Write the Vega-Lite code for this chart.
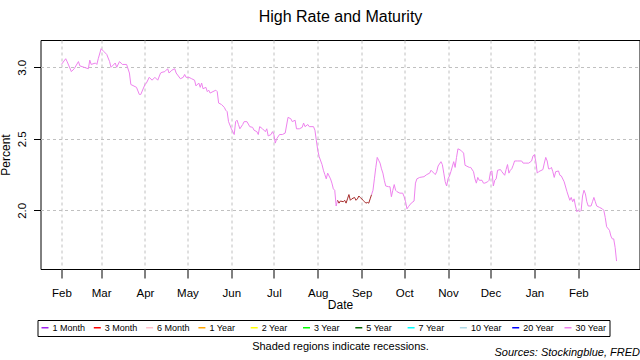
{
"$schema": "https://vega.github.io/schema/vega-lite/v6.json",
"width": 599, "height": 229,
"autosize": "none",
"padding": {"left": 40.5, "top": 40, "right": 0.5, "bottom": 91},
"background": "white",
"config": {
  "view": {"stroke": "black", "strokeWidth": 1},
  "font": "Liberation Sans",
  "axis": {"labelColor": "black", "titleColor": "black", "tickColor": "black", "titleFontWeight": "normal", "labelFont": "Liberation Sans", "titleFont": "Liberation Sans"}
},
"resolve": {"axis": {"x": "independent", "y": "independent"}},
"datasets": {
"a": [
{"date":"2019-02-01","rate":3.02},{"date":"2019-02-04","rate":3.06},{"date":"2019-02-05","rate":3.04},{"date":"2019-02-08","rate":2.97},{"date":"2019-02-10","rate":2.99},{"date":"2019-02-13","rate":3.04},{"date":"2019-02-14","rate":3.01},{"date":"2019-02-17","rate":3.00},{"date":"2019-02-20","rate":2.99},{"date":"2019-02-21","rate":3.05},{"date":"2019-02-22","rate":3.02},{"date":"2019-02-25","rate":3.03},{"date":"2019-02-26","rate":3.02},{"date":"2019-02-27","rate":3.06},
{"date":"2019-03-01","rate":3.13},{"date":"2019-03-03","rate":3.11},{"date":"2019-03-05","rate":3.09},{"date":"2019-03-07","rate":3.04},{"date":"2019-03-08","rate":3.00},{"date":"2019-03-11","rate":3.03},{"date":"2019-03-12","rate":3.00},{"date":"2019-03-14","rate":3.04},{"date":"2019-03-16","rate":3.02},{"date":"2019-03-19","rate":3.02},{"date":"2019-03-21","rate":2.96},{"date":"2019-03-22","rate":2.88},{"date":"2019-03-26","rate":2.86},{"date":"2019-03-28","rate":2.81},{"date":"2019-03-29","rate":2.81},
{"date":"2019-04-01","rate":2.88},{"date":"2019-04-02","rate":2.89},{"date":"2019-04-04","rate":2.93},{"date":"2019-04-06","rate":2.91},{"date":"2019-04-08","rate":2.93},{"date":"2019-04-10","rate":2.91},{"date":"2019-04-12","rate":2.96},{"date":"2019-04-13","rate":2.965},{"date":"2019-04-15","rate":2.97},{"date":"2019-04-17","rate":2.99},{"date":"2019-04-18","rate":2.96},{"date":"2019-04-20","rate":2.98},{"date":"2019-04-22","rate":2.99},{"date":"2019-04-23","rate":2.96},{"date":"2019-04-26","rate":2.92},{"date":"2019-04-28","rate":2.93},{"date":"2019-04-29","rate":2.95},{"date":"2019-04-30","rate":2.93},
{"date":"2019-05-02","rate":2.93},{"date":"2019-05-04","rate":2.92},{"date":"2019-05-06","rate":2.91},{"date":"2019-05-07","rate":2.87},{"date":"2019-05-09","rate":2.89},{"date":"2019-05-10","rate":2.86},{"date":"2019-05-11","rate":2.89},{"date":"2019-05-12","rate":2.85},{"date":"2019-05-14","rate":2.86},{"date":"2019-05-15","rate":2.83},{"date":"2019-05-16","rate":2.84},{"date":"2019-05-17","rate":2.82},{"date":"2019-05-19","rate":2.83},{"date":"2019-05-21","rate":2.84},{"date":"2019-05-22","rate":2.83},{"date":"2019-05-23","rate":2.75},{"date":"2019-05-25","rate":2.74},{"date":"2019-05-27","rate":2.72},{"date":"2019-05-28","rate":2.70},{"date":"2019-05-29","rate":2.69},{"date":"2019-05-30","rate":2.62},
{"date":"2019-06-01","rate":2.57},{"date":"2019-06-03","rate":2.53},{"date":"2019-06-04","rate":2.62},{"date":"2019-06-05","rate":2.63},{"date":"2019-06-06","rate":2.60},{"date":"2019-06-07","rate":2.57},{"date":"2019-06-09","rate":2.60},{"date":"2019-06-10","rate":2.62},{"date":"2019-06-12","rate":2.62},{"date":"2019-06-14","rate":2.585},{"date":"2019-06-16","rate":2.58},{"date":"2019-06-17","rate":2.56},{"date":"2019-06-19","rate":2.55},{"date":"2019-06-20","rate":2.53},{"date":"2019-06-21","rate":2.585},{"date":"2019-06-23","rate":2.57},{"date":"2019-06-25","rate":2.55},{"date":"2019-06-26","rate":2.57},{"date":"2019-06-27","rate":2.52},{"date":"2019-06-29","rate":2.53},{"date":"2019-06-30","rate":2.55},
{"date":"2019-07-01","rate":2.53},{"date":"2019-07-02","rate":2.47},{"date":"2019-07-03","rate":2.50},{"date":"2019-07-05","rate":2.53},{"date":"2019-07-07","rate":2.53},{"date":"2019-07-09","rate":2.54},{"date":"2019-07-11","rate":2.65},{"date":"2019-07-13","rate":2.64},{"date":"2019-07-14","rate":2.62},{"date":"2019-07-16","rate":2.63},{"date":"2019-07-17","rate":2.57},{"date":"2019-07-19","rate":2.57},{"date":"2019-07-21","rate":2.58},{"date":"2019-07-22","rate":2.61},{"date":"2019-07-23","rate":2.585},{"date":"2019-07-25","rate":2.60},{"date":"2019-07-26","rate":2.585},{"date":"2019-07-29","rate":2.585},{"date":"2019-07-30","rate":2.56},{"date":"2019-07-31","rate":2.49},
{"date":"2019-08-01","rate":2.42},{"date":"2019-08-02","rate":2.375},{"date":"2019-08-04","rate":2.32},{"date":"2019-08-05","rate":2.28},{"date":"2019-08-06","rate":2.25},{"date":"2019-08-07","rate":2.22},{"date":"2019-08-08","rate":2.26},{"date":"2019-08-10","rate":2.22},{"date":"2019-08-11","rate":2.19},{"date":"2019-08-12","rate":2.15},{"date":"2019-08-13","rate":2.14},{"date":"2019-08-14","rate":2.03},{"date":"2019-08-15","rate":2.07}
],
"b": [
{"date":"2019-08-15","rate":2.07},{"date":"2019-08-16","rate":2.05},{"date":"2019-08-17","rate":2.065},{"date":"2019-08-19","rate":2.06},{"date":"2019-08-20","rate":2.07},{"date":"2019-08-21","rate":2.05},{"date":"2019-08-22","rate":2.08},{"date":"2019-08-23","rate":2.11},{"date":"2019-08-24","rate":2.07},{"date":"2019-08-25","rate":2.08},{"date":"2019-08-27","rate":2.09},{"date":"2019-08-28","rate":2.07},{"date":"2019-08-29","rate":2.08},{"date":"2019-08-30","rate":2.10},{"date":"2019-08-31","rate":2.09},{"date":"2019-09-02","rate":2.07},{"date":"2019-09-03","rate":2.06},{"date":"2019-09-04","rate":2.05},{"date":"2019-09-05","rate":2.055},{"date":"2019-09-06","rate":2.05},{"date":"2019-09-07","rate":2.08},{"date":"2019-09-08","rate":2.11}
],
"c1": [
{"date":"2019-09-08","rate":2.11},{"date":"2019-09-09","rate":2.14},{"date":"2019-09-10","rate":2.22},{"date":"2019-09-11","rate":2.30},{"date":"2019-09-12","rate":2.37},{"date":"2019-09-13","rate":2.35},{"date":"2019-09-14","rate":2.33},{"date":"2019-09-15","rate":2.29},{"date":"2019-09-16","rate":2.26},{"date":"2019-09-17","rate":2.21},{"date":"2019-09-18","rate":2.17},{"date":"2019-09-20","rate":2.165},{"date":"2019-09-21","rate":2.165},{"date":"2019-09-22","rate":2.095},{"date":"2019-09-23","rate":2.14},{"date":"2019-09-24","rate":2.18},{"date":"2019-09-25","rate":2.14},{"date":"2019-09-26","rate":2.13},{"date":"2019-09-28","rate":2.12},{"date":"2019-09-30","rate":2.12},
{"date":"2019-10-01","rate":2.095},{"date":"2019-10-02","rate":2.06},{"date":"2019-10-03","rate":2.01},{"date":"2019-10-04","rate":2.025},{"date":"2019-10-06","rate":2.05},{"date":"2019-10-08","rate":2.065},{"date":"2019-10-09","rate":2.19},{"date":"2019-10-10","rate":2.22},{"date":"2019-10-12","rate":2.23},{"date":"2019-10-15","rate":2.235},{"date":"2019-10-17","rate":2.25},{"date":"2019-10-19","rate":2.26},{"date":"2019-10-20","rate":2.28},{"date":"2019-10-22","rate":2.26},{"date":"2019-10-23","rate":2.25},{"date":"2019-10-24","rate":2.27},{"date":"2019-10-25","rate":2.31},{"date":"2019-10-27","rate":2.34},{"date":"2019-10-28","rate":2.32},{"date":"2019-10-29","rate":2.26},{"date":"2019-10-30","rate":2.20},{"date":"2019-10-31","rate":2.17},
{"date":"2019-11-01","rate":2.22},{"date":"2019-11-02","rate":2.24},{"date":"2019-11-03","rate":2.27},{"date":"2019-11-05","rate":2.34},{"date":"2019-11-06","rate":2.30},{"date":"2019-11-07","rate":2.37},{"date":"2019-11-08","rate":2.43},{"date":"2019-11-10","rate":2.42},{"date":"2019-11-12","rate":2.40},{"date":"2019-11-13","rate":2.315},{"date":"2019-11-16","rate":2.30},{"date":"2019-11-17","rate":2.30},{"date":"2019-11-19","rate":2.27},{"date":"2019-11-20","rate":2.22},{"date":"2019-11-21","rate":2.19},{"date":"2019-11-22","rate":2.23},{"date":"2019-11-23","rate":2.21},{"date":"2019-11-25","rate":2.21},{"date":"2019-11-26","rate":2.19},{"date":"2019-11-27","rate":2.19},{"date":"2019-11-29","rate":2.20},{"date":"2019-11-30","rate":2.21},
{"date":"2019-12-01","rate":2.27},{"date":"2019-12-02","rate":2.275},{"date":"2019-12-03","rate":2.17},{"date":"2019-12-04","rate":2.21},{"date":"2019-12-05","rate":2.22},{"date":"2019-12-06","rate":2.28},{"date":"2019-12-08","rate":2.285},{"date":"2019-12-09","rate":2.27},{"date":"2019-12-11","rate":2.245},{"date":"2019-12-12","rate":2.285},{"date":"2019-12-13","rate":2.32},{"date":"2019-12-14","rate":2.26},{"date":"2019-12-15","rate":2.28},{"date":"2019-12-16","rate":2.29},{"date":"2019-12-17","rate":2.315},{"date":"2019-12-18","rate":2.345},{"date":"2019-12-20","rate":2.345},{"date":"2019-12-23","rate":2.345},{"date":"2019-12-24","rate":2.33},{"date":"2019-12-26","rate":2.33},{"date":"2019-12-28","rate":2.33},{"date":"2019-12-30","rate":2.345},{"date":"2019-12-31","rate":2.38}
],
"c2": [
{"date":"2019-12-31","rate":2.38},
{"date":"2020-01-01","rate":2.39},{"date":"2020-01-02","rate":2.34},{"date":"2020-01-03","rate":2.26},{"date":"2020-01-04","rate":2.27},{"date":"2020-01-05","rate":2.275},{"date":"2020-01-07","rate":2.285},{"date":"2020-01-08","rate":2.33},{"date":"2020-01-09","rate":2.37},{"date":"2020-01-10","rate":2.345},{"date":"2020-01-11","rate":2.29},{"date":"2020-01-12","rate":2.29},{"date":"2020-01-13","rate":2.30},{"date":"2020-01-14","rate":2.27},{"date":"2020-01-15","rate":2.23},{"date":"2020-01-16","rate":2.27},{"date":"2020-01-18","rate":2.275},{"date":"2020-01-19","rate":2.245},{"date":"2020-01-20","rate":2.24},{"date":"2020-01-22","rate":2.20},{"date":"2020-01-24","rate":2.13},{"date":"2020-01-25","rate":2.10},{"date":"2020-01-26","rate":2.07},{"date":"2020-01-27","rate":2.09},{"date":"2020-01-28","rate":2.06},{"date":"2020-01-29","rate":2.08},{"date":"2020-01-30","rate":2.03},{"date":"2020-01-31","rate":1.99},
{"date":"2020-02-01","rate":2.00},{"date":"2020-02-02","rate":1.99},{"date":"2020-02-03","rate":2.00},{"date":"2020-02-04","rate":2.10},{"date":"2020-02-05","rate":2.14},{"date":"2020-02-06","rate":2.115},{"date":"2020-02-07","rate":2.06},{"date":"2020-02-08","rate":2.03},{"date":"2020-02-10","rate":2.03},{"date":"2020-02-11","rate":2.06},{"date":"2020-02-12","rate":2.09},{"date":"2020-02-13","rate":2.06},{"date":"2020-02-14","rate":2.03},{"date":"2020-02-16","rate":2.02},{"date":"2020-02-18","rate":2.01},{"date":"2020-02-19","rate":2.00},{"date":"2020-02-20","rate":1.95},{"date":"2020-02-21","rate":1.885},{"date":"2020-02-23","rate":1.86},{"date":"2020-02-24","rate":1.82},{"date":"2020-02-25","rate":1.80},{"date":"2020-02-26","rate":1.80},{"date":"2020-02-27","rate":1.74},{"date":"2020-02-28","rate":1.645}
]
},
"layer": [
{
  "data": {"name": "a"},
  "transform": [{"calculate": "'30 Year'", "as": "maturity"}],
  "mark": {"type": "line", "strokeWidth": 1},
  "encoding": {
    "x": {"field": "date", "type": "temporal",
      "scale": {"type": "utc", "domain": [{"year":2019,"month":1,"date":17,"hours":5,"utc":true},{"year":2020,"month":3,"date":15,"hours":5,"utc":true}]},
      "axis": {"orient": "bottom", "values": [
        {"year":2019,"month":2,"date":1,"utc":true},{"year":2019,"month":3,"date":1,"utc":true},{"year":2019,"month":4,"date":1,"utc":true},{"year":2019,"month":5,"date":1,"utc":true},{"year":2019,"month":6,"date":1,"utc":true},{"year":2019,"month":7,"date":1,"utc":true},{"year":2019,"month":8,"date":1,"utc":true},{"year":2019,"month":9,"date":1,"utc":true},{"year":2019,"month":10,"date":1,"utc":true},{"year":2019,"month":11,"date":1,"utc":true},{"year":2019,"month":12,"date":1,"utc":true},{"year":2020,"month":1,"date":1,"utc":true},{"year":2020,"month":2,"date":1,"utc":true}],
        "format": "%b", "labelFontSize": 11.5, "tickSize": 9, "labelPadding": 9, "labelAngle": 0, "labelFlush": false, "labelOverlap": false,
        "domain": false, "grid": true, "gridDash": [3,3], "gridColor": "#c0c0c0", "gridWidth": 1,
        "title": "Date", "titleFontSize": 12, "titlePadding": 1}},
    "y": {"field": "rate", "type": "quantitative",
      "scale": {"domain": [1.5895, 3.191], "nice": false, "zero": false},
      "axis": {"orient": "left", "values": [2.0, 2.5, 3.0], "format": ".1f", "labelAngle": -90, "labelAlign": "center", "labelBaseline": "bottom", "labelFontSize": 11.5, "tickSize": 7, "labelPadding": 6, "domain": false, "grid": true, "gridDash": [3,3], "gridColor": "#c0c0c0", "title": "Percent", "titleFontSize": 12, "titlePadding": 4}},
    "color": {"field": "maturity", "type": "nominal",
      "scale": {"domain": ["1 Month","3 Month","6 Month","1 Year","2 Year","3 Year","5 Year","7 Year","10 Year","20 Year","30 Year"],
                "range": ["#A020F0","#FF0000","#FFC0CB","#FFA500","#FFFF00","#00FF00","#006400","#00FFFF","#ADD8E6","#0000FF","#EE82EE"]},
      "legend": {"orient": "none", "legendX": -3, "legendY": 280, "direction": "horizontal", "columns": 11, "gridAlign": "all", "title": null,
        "symbolType": "stroke", "symbolSize": 49, "symbolStrokeWidth": 1.5, "labelFontSize": 9, "labelFont": "Liberation Sans", "labelColor": "black", "labelOffset": 3, "columnPadding": 5.3,
        "strokeColor": "black", "fillColor": "white", "padding": 3}}
  }
},
{
  "data": {"name": "b"},
  "mark": {"type": "line", "strokeWidth": 1, "color": "#A52A2A"},
  "encoding": {
    "x": {"field": "date", "type": "temporal",
      "axis": {"orient": "top", "ticks": false, "labels": false, "domain": false, "grid": false, "title": "High Rate and Maturity", "titleFontSize": 16, "titlePadding": 16}},
    "y": {"field": "rate", "type": "quantitative", "axis": null}
  }
},
{
  "data": {"name": "c1"},
  "transform": [{"calculate": "'30 Year'", "as": "maturity"}],
  "mark": {"type": "line", "strokeWidth": 1},
  "encoding": {
    "x": {"field": "date", "type": "temporal",
      "axis": {"orient": "bottom", "ticks": false, "labels": false, "domain": false, "grid": false, "title": "Sources: Stockingblue, FRED", "titleFontSize": 11, "titleFontStyle": "italic", "titleAnchor": "end", "titlePadding": 77}},
    "y": {"field": "rate", "type": "quantitative", "axis": null},
    "color": {"field": "maturity", "type": "nominal",
      "scale": {"domain": ["1 Month","3 Month","6 Month","1 Year","2 Year","3 Year","5 Year","7 Year","10 Year","20 Year","30 Year"],
                "range": ["#A020F0","#FF0000","#FFC0CB","#FFA500","#FFFF00","#00FF00","#006400","#00FFFF","#ADD8E6","#0000FF","#EE82EE"]},
      "legend": null}
  }
},
{
  "data": {"name": "c2"},
  "transform": [{"calculate": "'30 Year'", "as": "maturity"}],
  "mark": {"type": "line", "strokeWidth": 1},
  "encoding": {
    "x": {"field": "date", "type": "temporal",
      "axis": {"orient": "bottom", "ticks": false, "labels": false, "domain": false, "grid": false, "title": "Shaded regions indicate recessions.", "titleFontSize": 11, "titlePadding": 71}},
    "y": {"field": "rate", "type": "quantitative", "axis": null},
    "color": {"field": "maturity", "type": "nominal",
      "scale": {"domain": ["1 Month","3 Month","6 Month","1 Year","2 Year","3 Year","5 Year","7 Year","10 Year","20 Year","30 Year"],
                "range": ["#A020F0","#FF0000","#FFC0CB","#FFA500","#FFFF00","#00FF00","#006400","#00FFFF","#ADD8E6","#0000FF","#EE82EE"]},
      "legend": null}
  }
}
]
}
